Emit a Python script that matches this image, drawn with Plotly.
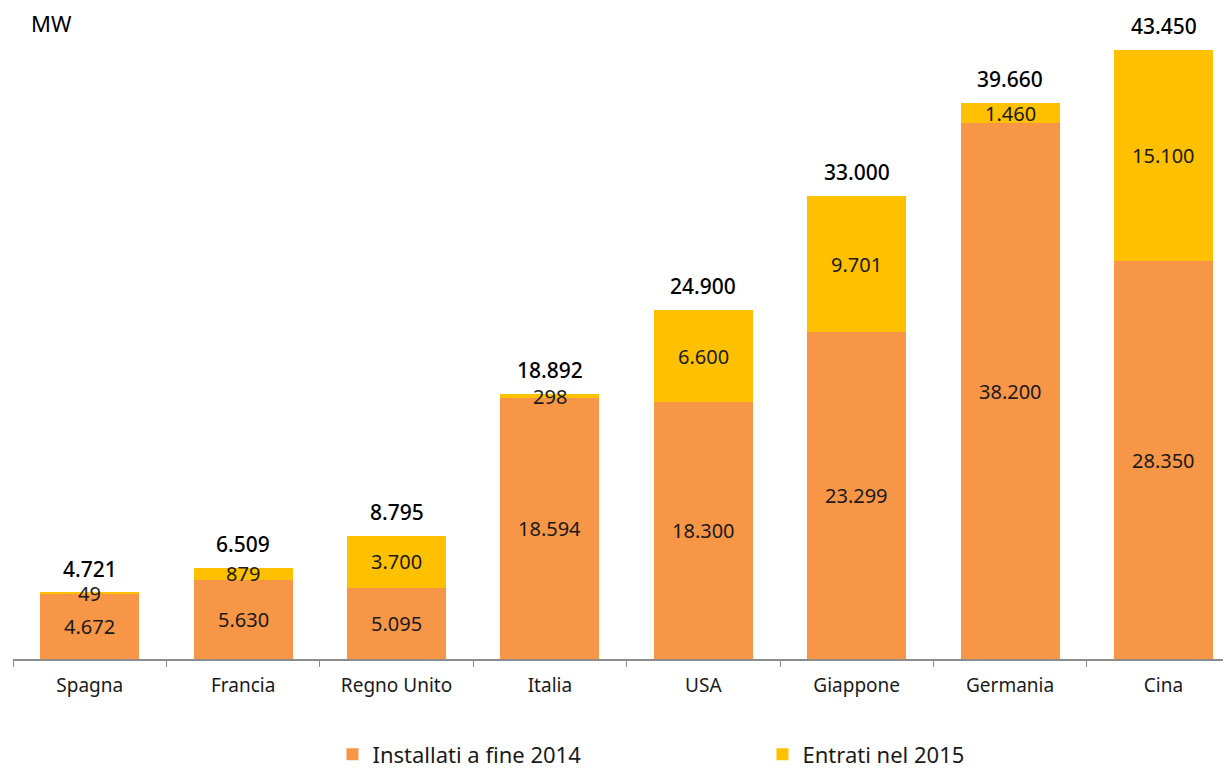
import plotly.graph_objects as go

categories = ["Spagna", "Francia", "Regno Unito", "Italia", "USA", "Giappone", "Germania", "Cina"]
installati_2014 = [4672, 5630, 5095, 18594, 18300, 23299, 38200, 28350]
entrati_2015 = [49, 879, 3700, 298, 6600, 9701, 1460, 15100]
totali = [4721, 6509, 8795, 18892, 24900, 33000, 39660, 43450]

ORANGE = "#F79646"
YELLOW = "#FFC000"
FONT = "Noto Sans"


def it(n):
    return f"{n:,}".replace(",", ".")


fig = go.Figure()
fig.add_trace(go.Bar(x=categories, y=installati_2014, name="Installati a fine 2014",
                     marker=dict(color=ORANGE, line=dict(width=0))))
fig.add_trace(go.Bar(x=categories, y=entrati_2015, name="Entrati nel 2015",
                     marker=dict(color=YELLOW, line=dict(width=0))))

annotations = []
for c, a, b, t in zip(categories, installati_2014, entrati_2015, totali):
    annotations.append(dict(x=c, y=a / 2, text=it(a), showarrow=False,
                            font=dict(family=FONT, size=20, color="#1a1a1a")))
    annotations.append(dict(x=c, y=a + b / 2, text=it(b), showarrow=False,
                            font=dict(family=FONT, size=20, color="#1a1a1a")))
    annotations.append(dict(x=c, y=t, text=it(t), showarrow=False, yshift=24,
                            font=dict(family=FONT, size=21, color="#000000", weight=500)))
annotations.append(dict(xref="paper", yref="paper", x=0, y=1.0, xanchor="left", yanchor="middle",
                        xshift=16, yshift=5, text="MW", showarrow=False,
                        font=dict(family=FONT, size=22, color="#000000")))

fig.update_layout(
    barmode="stack",
    bargap=0.355,
    width=1223, height=761,
    margin=dict(l=5, r=0, t=20, b=110, autoexpand=False),
    paper_bgcolor="white", plot_bgcolor="white",
    font=dict(family=FONT, color="#1a1a1a"),
    annotations=annotations,
    legend=dict(orientation="h", xref="container", yref="container",
                x=0.2653, xanchor="left", y=0.019, yanchor="middle",
                entrywidth=385, entrywidthmode="pixels",
                font=dict(family=FONT, size=22, color="#1a1a1a"),
                itemclick=False, traceorder="normal"),
    xaxis=dict(range=[-0.5, 7.44], showline=True, linecolor="#8c8c8c", linewidth=1.5,
               ticks="outside", tickson="boundaries", ticklen=6, tickcolor="#8c8c8c",
               ticklabelstandoff=8,
               tickfont=dict(family=FONT, size=19, color="#1a1a1a"), showgrid=False),
    yaxis=dict(range=[0, 45000], visible=False, showgrid=False),
)

fig.write_html("out.html")
